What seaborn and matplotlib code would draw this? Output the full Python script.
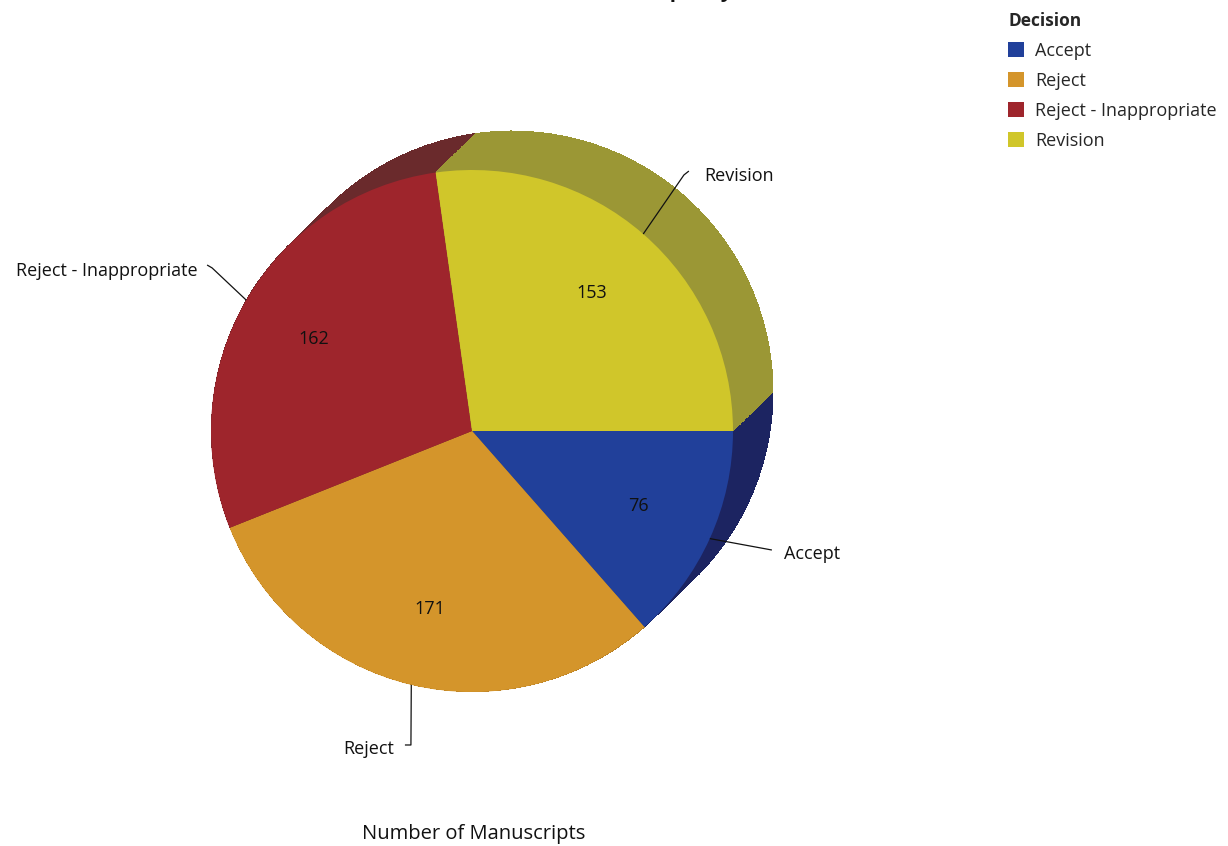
import numpy as np
import matplotlib
matplotlib.use("Agg")
import matplotlib.pyplot as plt
from matplotlib.patches import Patch
import seaborn as sns

# Manuscript decisions
decisions = ["Accept", "Reject", "Reject - Inappropriate", "Revision"]
counts = [76, 171, 162, 153]

face_colors = ["#21409A", "#D4952B", "#9E252C", "#D0C62A"]
side_colors = ["#1C2461", "#B07A24", "#6A2A2C", "#9B9735"]

sns.set_theme(style="white")
plt.rcParams["font.family"] = ["Open Sans", "DejaVu Sans"]

W, H = 1228, 846
R_PX = 261.0           # pie radius in pixels
CX, CY = 472.0, 431.0  # pie centre in pixels (from top-left)
FS = 13

fig = plt.figure(figsize=(W / 100, H / 100), dpi=100)
ax = fig.add_axes([0, 0, 1, 1])
ax.set_axis_off()

# extrusion: sweep of darker wedges from the back face to the front face
depth = np.array([40.0, 39.0]) / R_PX
steps = 90
for k in range(steps, 0, -1):
    t = k / steps
    ax.pie(counts, colors=side_colors, startangle=0, counterclock=False,
           radius=1, center=(t * depth[0], t * depth[1]),
           wedgeprops=dict(linewidth=0, antialiased=False))

# front face
total = sum(counts)
wedges, _, autotexts = ax.pie(
    counts, colors=face_colors, startangle=0, counterclock=False,
    radius=1, center=(0, 0),
    autopct=lambda p: f"{round(p * total / 100)}", pctdistance=0.7,
    wedgeprops=dict(linewidth=0))
for t in autotexts:
    t.set_fontsize(FS)
    t.set_color("#111111")

# outer labels with leader lines: elbow, short tick, text anchor, alignment
leaders = {
    "Accept": ((1.149, -0.456), None, (1.195, -0.471), "left"),
    "Reject": ((-0.234, -1.203), (-0.257, -1.203), (-0.299, -1.218), "right"),
    "Reject - Inappropriate": ((-0.996, 0.625), (-1.015, 0.636), (-1.050, 0.613), "right"),
    "Revision": ((0.812, 0.981), (0.831, 0.996), (0.889, 0.977), "left"),
}
cum = 0.0
for name, val in zip(decisions, counts):
    mid = np.deg2rad(-(cum + val / 2) / total * 360)
    cum += val
    edge = (np.cos(mid), np.sin(mid))
    elbow, tick, txt, ha = leaders[name]
    xs = [edge[0], elbow[0]]
    ys = [edge[1], elbow[1]]
    if tick is not None:
        xs.append(tick[0])
        ys.append(tick[1])
    ax.plot(xs, ys, color="#111111", lw=0.9, solid_capstyle="butt")
    ax.text(txt[0], txt[1], name, ha=ha, va="center", fontsize=FS, color="#111111")

ax.set_aspect("auto")
ax.set_xlim(-CX / R_PX, (W - CX) / R_PX)
ax.set_ylim(-(H - CY) / R_PX, CY / R_PX)

# title sits at the very top edge
fig.text(700 / W, 1 + 3 / H, "Manuscripts by Decision", ha="center", va="baseline",
         fontsize=15, fontweight="bold", color="#111111")

fig.text(474 / W, 1 - 834 / H, "Number of Manuscripts", ha="center", va="center",
         fontsize=14.5, color="#111111")

handles = [Patch(facecolor=c, edgecolor="none") for c in face_colors]
leg = fig.legend(handles, decisions, title="Decision", loc="upper left",
                 bbox_to_anchor=(1008 / W, 1 - 12 / H), frameon=False,
                 fontsize=FS, title_fontsize=12.5, alignment="left",
                 handlelength=0.9, handleheight=0.9, handletextpad=0.6,
                 labelspacing=0.66, borderaxespad=0, borderpad=0)
leg.get_title().set_fontweight("bold")

fig.savefig("out.png", dpi=100)
